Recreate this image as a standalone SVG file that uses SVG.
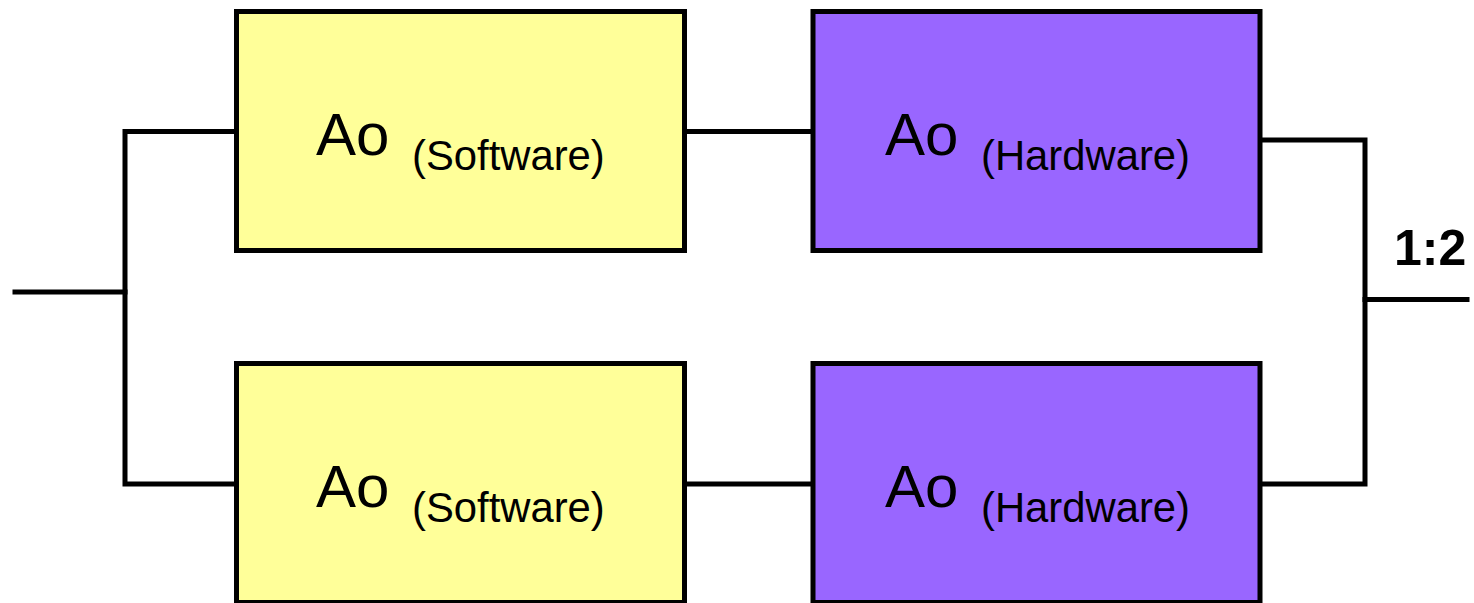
<svg xmlns="http://www.w3.org/2000/svg" width="1474" height="603" viewBox="0 0 1474 603">
  <style>
    .sw { fill: #FFFF99; stroke: #000; stroke-width: 5; }
    .hw { fill: #9966FF; stroke: #000; stroke-width: 5; }
    .big { font-family: "Liberation Sans", Arial, sans-serif; font-size: 60px; fill: #000; }
    .small { font-family: "Liberation Sans", Arial, sans-serif; font-size: 41.8px; fill: #000; }
    .lbl { font-family: "Liberation Sans", Arial, sans-serif; font-size: 50px; font-weight: bold; fill: #000; }
    .conn { fill: none; stroke: #000; stroke-width: 5; stroke-linejoin: miter; stroke-linecap: square; }
  </style>
  <rect width="1474" height="603" fill="#fff"/>
  <g id="connectors">
    <path class="conn" d="M15 292 H125"/>
    <path class="conn" d="M236 131.5 H125 V484 H236"/>
    <path class="conn" d="M685 131.5 H813"/>
    <path class="conn" d="M685 484 H813"/>
    <path class="conn" d="M1260 140 H1365 V484 H1260"/>
    <path class="conn" d="M1365 299.5 H1467"/>
  </g>
  <g id="sw1">
    <rect class="sw" x="236.5" y="11.5" width="448" height="239"/>
    <text class="big" x="316" y="155">Ao</text>
    <text class="small" x="412" y="170">(Software)</text>
  </g>
  <g id="hw1">
    <rect class="hw" x="813" y="11.5" width="447" height="239"/>
    <text class="big" x="885" y="155">Ao</text>
    <text class="small" x="981" y="170">(Hardware)</text>
  </g>
  <g id="sw2">
    <rect class="sw" x="236.5" y="363.5" width="448" height="239"/>
    <text class="big" x="316" y="507">Ao</text>
    <text class="small" x="412" y="522">(Software)</text>
  </g>
  <g id="hw2">
    <rect class="hw" x="813" y="363.5" width="447" height="239"/>
    <text class="big" x="885" y="507">Ao</text>
    <text class="small" x="981" y="522">(Hardware)</text>
  </g>
  <g id="ratio">
    <text class="lbl" x="1394" y="265">1:2</text>
  </g>
</svg>
